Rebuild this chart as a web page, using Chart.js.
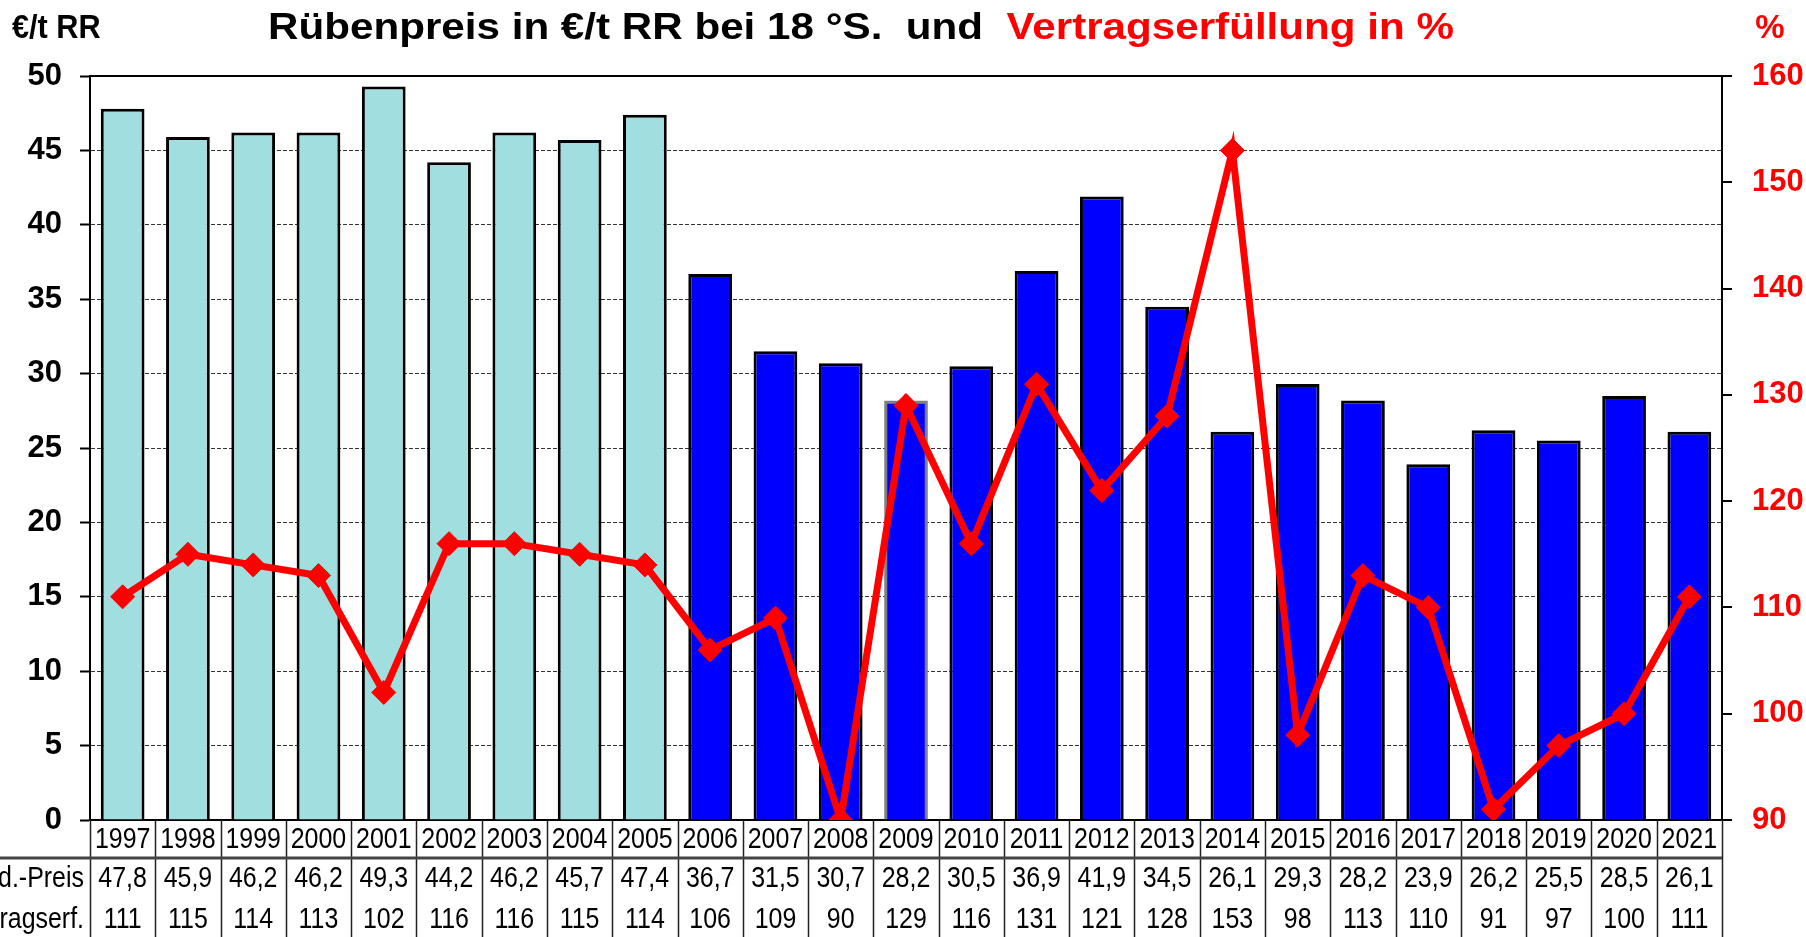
<!DOCTYPE html>
<html>
<head>
<meta charset="utf-8">
<script src="https://cdn.jsdelivr.net/npm/chart.js@4/dist/chart.umd.min.js"></script>
<style>
  html, body { margin: 0; padding: 0; background: #fff; }
  #wrap { width: 1806px; height: 937px; position: relative; }
</style>
</head>
<body>
<div id="wrap"><canvas id="chart"></canvas></div>
<script>
const years = ['1997','1998','1999','2000','2001','2002','2003','2004','2005','2006','2007','2008','2009',
  '2010','2011','2012','2013','2014','2015','2016','2017','2018','2019','2020','2021']
const preis = [47.8,45.9,46.2,46.2,49.3,44.2,46.2,45.7,47.4,36.7,31.5,30.7,28.2,30.5,36.9,41.9,34.5,26.1,29.3,28.2,23.9,26.2,25.5,28.5,26.1]
const vertrag = [111,115,114,113,102,116,116,115,114,106,109,90,129,116,131,121,128,153,98,113,110,91,97,100,111]
const rowLabels = ['Ld.-Preis', 'Vertragserf.']

const FONT = '"Liberation Sans", Arial, sans-serif'
const barColors = years.map((y, i) => i < 9 ? 'rgb(160,222,224)' : '#0000ff')
const barBorders = years.map(y => y === '2009' ? '#808080' : '#000')

const tablePlugin = {
  id: 'table',
  afterDraw(chart) {
    const ctx = chart.ctx
    const x = chart.scales.x
    const area = chart.chartArea
    const step = x.getPixelForValue(1) - x.getPixelForValue(0)
    const top = area.bottom, r1 = 858, r2 = 898, bottom = 937

    ctx.save()
    // title
    ctx.textBaseline = 'middle'
    ctx.font = 'bold 37px ' + FONT
    const t1 = 'Rübenpreis in €/t RR bei 18 °S.  und  '
    const t2 = 'Vertragserfüllung in %'
    const w1 = ctx.measureText(t1).width, w2 = ctx.measureText(t2).width
    const sx = 1186 / (w1 + w2)
    ctx.save()
    ctx.translate(268, 29)
    ctx.scale(sx, 1)
    ctx.textAlign = 'left'
    ctx.fillStyle = '#000'
    ctx.fillText(t1, 0, 0)
    ctx.fillStyle = '#ff0000'
    ctx.fillText(t2, w1, 0)
    ctx.restore()

    ctx.font = 'bold 33px ' + FONT
    ctx.fillStyle = '#000'
    ctx.textAlign = 'left'
    ctx.save()
    ctx.translate(12, 29)
    ctx.scale(0.93, 1)
    ctx.fillText('€/t RR', 0, 0)
    ctx.restore()
    ctx.fillStyle = '#ff0000'
    ctx.textAlign = 'center'
    ctx.fillText('%', 1770, 29)

    // plot frame top
    ctx.strokeStyle = '#000'
    ctx.lineWidth = 2
    ctx.beginPath()
    ctx.moveTo(area.left, area.top)
    ctx.lineTo(area.right + 10, area.top)
    ctx.stroke()

    // table grid
    ctx.lineWidth = 1.5
    ctx.strokeStyle = '#222'
    ctx.beginPath()
    for (let i = 0; i <= years.length; i++) {
      const px = Math.round(x.getPixelForValue(0) - step / 2 + i * step) + 0.5
      ctx.moveTo(px, top)
      ctx.lineTo(px, bottom)
    }
    ctx.stroke()
    ctx.lineWidth = 3
    ctx.strokeStyle = '#444'
    ctx.beginPath()
    ctx.moveTo(0, r1)
    ctx.lineTo(area.right, r1)
    ctx.stroke()

    // table text
    const rows = [
      { y: (top + r1) / 2 + 1, vals: years },
      { y: (r1 + r2) / 2 + 1, vals: preis.map(v => v.toFixed(1).replace('.', ',')) },
      { y: (r2 + bottom) / 2 + 2, vals: vertrag.map(String) }
    ]
    ctx.fillStyle = '#000'
    ctx.font = '29px ' + FONT
    ctx.textAlign = 'center'
    rows.forEach(row => {
      row.vals.forEach((v, i) => {
        ctx.save()
        ctx.translate(x.getPixelForValue(i), row.y)
        ctx.scale(0.86, 1)
        ctx.fillText(v, 0, 0)
        ctx.restore()
      })
    })
    ctx.textAlign = 'right'
    rowLabels.forEach((lab, k) => {
      ctx.save()
      ctx.translate(84, rows[k + 1].y)
      ctx.scale(0.86, 1)
      ctx.fillText(lab, 0, 0)
      ctx.restore()
    })
    ctx.restore()
  }
}

new Chart(document.getElementById('chart'), {
  data: {
    labels: years,
    datasets: [
      {
        type: 'line',
        label: 'Vertragserfüllung',
        data: vertrag,
        yAxisID: 'y2',
        order: 0,
        borderColor: '#ff0000',
        borderWidth: 7,
        tension: 0,
        pointStyle: 'rectRot',
        pointRadius: 12,
        pointBackgroundColor: '#ff0000',
        pointBorderColor: '#ff0000',
        pointBorderWidth: 1
      },
      {
        type: 'bar',
        label: 'Rübenpreis',
        data: preis,
        yAxisID: 'y',
        order: 1,
        backgroundColor: barColors,
        borderColor: barBorders,
        borderWidth: 3,
        barPercentage: 0.67,
        categoryPercentage: 1
      }
    ]
  },
  options: {
    responsive: true,
    maintainAspectRatio: false,
    animation: false,
    layout: { padding: { top: 76, left: 0, right: 0, bottom: 0 } },
    plugins: {
      legend: { display: false },
      tooltip: { enabled: false }
    },
    scales: {
      x: {
        grid: { display: false },
        ticks: { display: false },
        border: { display: true, color: '#000', width: 2 },
        afterFit(scale) { scale.height = 117 }
      },
      y: {
        position: 'left',
        min: 0,
        max: 50,
        ticks: {
          stepSize: 5,
          padding: 18,
          color: '#000',
          font: { family: FONT, size: 31, weight: 'bold' }
        },
        grid: {
          color: c => (c.tick && (c.tick.value === 0 || c.tick.value === 50)) ? 'rgba(0,0,0,0)' : '#333',
          lineWidth: 1,
          tickColor: '#000',
          tickLength: 10,
          tickWidth: 2,
          tickBorderDash: []
        },
        border: { display: true, color: '#000', width: 2, dash: [4, 2] },
        afterFit(scale) { scale.width = 90 }
      },
      y2: {
        position: 'right',
        min: 90,
        max: 160,
        ticks: {
          stepSize: 10,
          padding: 20,
          color: '#ff0000',
          font: { family: FONT, size: 31, weight: 'bold' }
        },
        grid: { drawOnChartArea: false, tickColor: '#000', tickLength: 10, lineWidth: 2 },
        border: { display: true, color: '#000', width: 2 },
        afterFit(scale) { scale.width = 84 }
      }
    }
  },
  plugins: [tablePlugin]
})
</script>
</body>
</html>
